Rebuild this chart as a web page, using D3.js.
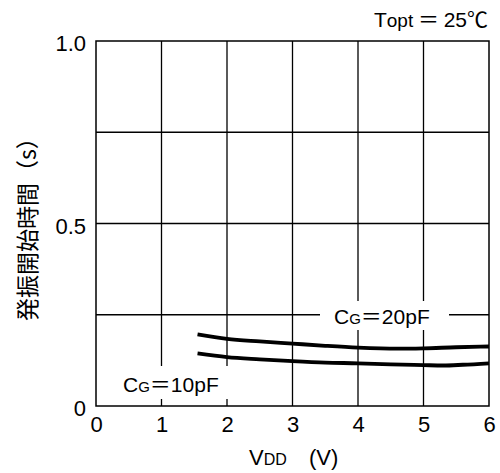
<!DOCTYPE html>
<html>
<head>
<meta charset="utf-8">
<script src="https://cdn.jsdelivr.net/npm/d3@7"></script>
<style>
  html, body { margin: 0; padding: 0; background: #fff; }
  svg { display: block; }
  text { font-family: "Liberation Sans", Arial, "Noto Sans CJK JP", sans-serif; fill: #000; }
  .cjk { font-family: "Noto Sans CJK JP", sans-serif; }
</style>
</head>
<body>
<svg id="chart" width="500" height="473"></svg>
<script>
// Supply voltage (V) sample points for each curve
const vddHigh = [1.55, 2, 2.5, 3, 3.5, 4, 4.6, 5, 5.5, 6];
const startHigh = [0.196, 0.184, 0.177, 0.171, 0.165, 0.160, 0.157, 0.158, 0.161, 0.163]; // CG = 20pF

const vddLow = [1.55, 2, 2.5, 3, 3.5, 4, 4.5, 5, 5.3, 5.6, 6];
const startLow = [0.144, 0.134, 0.128, 0.123, 0.119, 0.117, 0.114, 0.112, 0.111, 0.113, 0.117]; // CG = 10pF

const xTicks = [0, 1, 2, 3, 4, 5, 6];
const xGrid = [1, 2, 3, 4, 5];
const yTicks = [0, 0.5, 1.0];
const yTickLabels = ["0", "0.5", "1.0"];
const yGrid = [0.25, 0.5, 0.75];

const svg = d3.select("#chart");
const plotL = 96, plotR = 489, plotT = 41, plotB = 406;

const x = d3.scaleLinear().domain([0, 6]).range([plotL, plotR]);
const y = d3.scaleLinear().domain([0, 1]).range([plotB, plotT]);

// grid
const grid = svg.append("g").attr("stroke", "#000").attr("stroke-width", 1.3);
grid.selectAll("line.v").data(xGrid).join("line").attr("class", "v")
  .attr("x1", d => x(d)).attr("x2", d => x(d))
  .attr("y1", plotT).attr("y2", plotB);
grid.selectAll("line.h").data(yGrid).join("line").attr("class", "h")
  .attr("x1", plotL).attr("x2", plotR)
  .attr("y1", d => y(d)).attr("y2", d => y(d));

// white backing behind the curve labels (breaks the grid)
svg.append("rect").attr("x", 320).attr("y", 301).attr("width", 129).attr("height", 29).attr("fill", "#fff");
svg.append("rect").attr("x", 109).attr("y", 366).attr("width", 127).attr("height", 33).attr("fill", "#fff");

// frame
svg.append("rect")
  .attr("x", plotL).attr("y", plotT)
  .attr("width", plotR - plotL).attr("height", plotB - plotT)
  .attr("fill", "none").attr("stroke", "#000").attr("stroke-width", 1.5);

// curves
const line = d3.line().x(d => x(d[0])).y(d => y(d[1])).curve(d3.curveMonotoneX);
const series = [
  d3.zip(vddHigh, startHigh),
  d3.zip(vddLow, startLow)
];
svg.append("g").selectAll("path").data(series).join("path")
  .attr("d", line)
  .attr("fill", "none")
  .attr("stroke", "#000")
  .attr("stroke-width", 3.8)
  .attr("stroke-linecap", "butt");

// x axis
const xAxis = d3.axisBottom(x).tickValues(xTicks).tickSize(0).tickPadding(0).tickFormat(d3.format("d"));
const gx = svg.append("g").attr("transform", `translate(0,${plotB})`).call(xAxis);
gx.select(".domain").remove();
gx.selectAll("text").attr("font-size", 22).attr("dy", null).attr("y", 26)
  .attr("font-family", "Liberation Sans, Arial, sans-serif").attr("fill", "#000");

// y axis
const yAxis = d3.axisLeft(y).tickValues(yTicks).tickSize(0).tickPadding(10)
  .tickFormat((d, i) => yTickLabels[i]);
const gy = svg.append("g").attr("transform", `translate(${plotL},0)`).call(yAxis);
gy.select(".domain").remove();
gy.selectAll("text").attr("font-size", 22).attr("dy", "0.45em")
  .attr("font-family", "Liberation Sans, Arial, sans-serif").attr("fill", "#000");

// x axis title
const xt = svg.append("text").attr("x", 249).attr("y", 465).attr("font-size", 22);
xt.append("tspan").text("V");
xt.append("tspan").attr("font-size", 16).text("DD");
svg.append("text").attr("x", 309).attr("y", 465).attr("font-size", 22).text("(V)");

// y axis title
svg.append("text")
  .attr("class", "cjk")
  .attr("transform", "translate(26,321) rotate(-90)")
  .attr("dominant-baseline", "central")
  .attr("font-size", 23)
  .text("発振開始時間（s）");

// condition
const tt = svg.append("text").attr("x", 488).attr("y", 27).attr("text-anchor", "end").attr("font-size", 21);
tt.append("tspan").text("T");
tt.append("tspan").attr("font-size", 19).text("opt");
tt.append("tspan").attr("class", "cjk").text(" ＝ ");
tt.append("tspan").text("25");
tt.append("tspan").attr("class", "cjk").text("℃");

// curve labels
function capLabel(px, py, value) {
  const t = svg.append("text").attr("x", px).attr("y", py).attr("font-size", 21);
  t.append("tspan").text("C");
  t.append("tspan").attr("font-size", 15).text("G");
  t.append("tspan").attr("class", "cjk").text("＝");
  t.append("tspan").text(value);
}
capLabel(334, 324, "20pF");
capLabel(123, 392, "10pF");
</script>
</body>
</html>
